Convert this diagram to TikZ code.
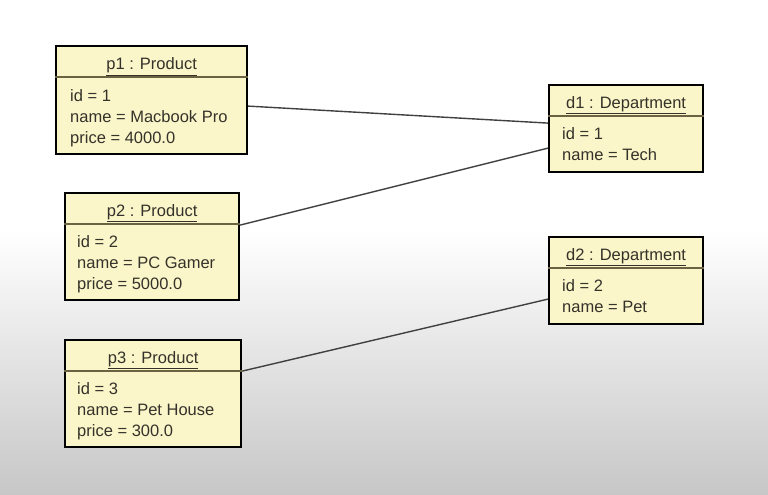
\documentclass[tikz,border=0pt]{standalone}
\usepackage{fontspec}
\setmainfont{Liberation Sans}
\usetikzlibrary{positioning}

\definecolor{boxfill}{HTML}{FBF6C9}
\definecolor{boxtext}{HTML}{34322A}
\definecolor{divline}{HTML}{6A6240}

\tikzset{
    obj/.style={draw=black, line width=2.2pt, fill=boxfill, anchor=north west, inner sep=0pt},
    objtitle/.style={anchor=base, text=boxtext, font=\fontsize{16.5}{21}\selectfont, inner sep=0pt},
    objattrs/.style={anchor=north west, align=left, text=boxtext, font=\fontsize{16.5}{21}\selectfont, inner sep=0pt},
    divider/.style={divline, line width=1.1pt},
    link/.style={draw=black!75, line width=1.4pt}
}

\begin{document}
\begin{tikzpicture}[x=1pt, y=-1pt]
    % Background
    \useasboundingbox (0,0) rectangle (768,495);
    \fill[white] (0,0) rectangle (768,495);
    \shade[top color=white, bottom color=black!22] (0,230) rectangle (768,495);

    % Products
    \node[obj, minimum width=191pt, minimum height=108pt] (p1) at (55,45) {};
    \node[obj, minimum width=174pt, minimum height=107pt] (p2) at (64,192) {};
    \node[obj, minimum width=176pt, minimum height=107pt] (p3) at (64,339) {};

    % Departments
    \node[obj, minimum width=154pt, minimum height=87pt] (d1) at (548,84) {};
    \node[obj, minimum width=154pt, minimum height=87pt] (d2) at (548,236) {};

    % Title dividers
    \foreach \o in {p1,p2,p3,d1,d2} {
        \draw[divider] ([yshift=-32pt]\o.north west) -- ([yshift=-32pt]\o.north east);
    }

    % Titles
    \node[objtitle] (p1t) at ([yshift=-25pt]p1.north) {\underline{p1 : Product}};
    \node[objtitle] (p2t) at ([yshift=-24pt]p2.north) {\underline{p2 : Product}};
    \node[objtitle] (p3t) at ([yshift=-24pt]p3.north) {\underline{p3 : Product}};
    \node[objtitle] (d1t) at ([yshift=-24pt]d1.north) {\underline{d1 : Department}};
    \node[objtitle] (d2t) at ([yshift=-24pt]d2.north) {\underline{d2 : Department}};

    % Attributes
    \node[objattrs] (p1a) at ([shift={(15pt,-44pt)}]p1.north west) {id = 1\\name = Macbook Pro\\price = 4000.0};
    \node[objattrs] (p2a) at ([shift={(13pt,-43pt)}]p2.north west) {id = 2\\name = PC Gamer\\price = 5000.0};
    \node[objattrs] (p3a) at ([shift={(13pt,-43pt)}]p3.north west) {id = 3\\name = Pet House\\price = 300.0};
    \node[objattrs] (d1a) at ([shift={(14pt,-43pt)}]d1.north west) {id = 1\\name = Tech};
    \node[objattrs] (d2a) at ([shift={(14pt,-43pt)}]d2.north west) {id = 2\\name = Pet};

    % Links
    \draw[link] ([yshift=-6pt]p1.east) -- ([yshift=5.5pt]d1.west);
    \draw[link] ([yshift=21.5pt]p2.east) -- ([yshift=-19.5pt]d1.west);
    \draw[link] ([yshift=22.5pt]p3.east) -- ([yshift=-18.5pt]d2.west);
\end{tikzpicture}
\end{document}
